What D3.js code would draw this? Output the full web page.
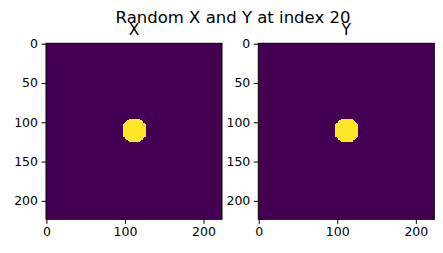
<!DOCTYPE html>
<html>
<head>
<meta charset="utf-8">
<script src="https://cdn.jsdelivr.net/npm/d3@7"></script>
<style>
  html, body { margin: 0; padding: 0; background: #fff; }
  svg { display: block; }
  text { font-family: "DejaVu Sans", sans-serif; fill: #000; }
</style>
</head>
<body>
<svg id="chart" width="443" height="253"></svg>
<script>
// ---- data ----
const suptitle = "Random X and Y at index 20";
const panelTitles = ["X", "Y"];
const gridSize = 224;                 // image is 224 x 224
const backgroundValue = 0;
const blobValue = 1;
// bright blob: [row, firstCol, lastCol(exclusive)]
const blobRows = [
  [96,105,120],[97,104,121],[98,103,122],[99,102,123],[100,101,124],[101,100,125],[102,99,126],
  [103,98,127],[104,98,127],[105,98,127],[106,98,127],[107,98,127],[108,98,127],[109,98,127],
  [110,98,127],[111,98,127],[112,98,127],[113,98,127],[114,98,127],[115,98,127],[116,98,127],[117,98,127],
  [118,99,126],[119,100,125],[120,101,124],[121,102,123],[122,103,122],[123,104,121],[124,105,120]
];
const xTicks = [0, 100, 200];
const yTicks = [0, 50, 100, 150, 200];

// ---- layout ----
const svg = d3.select("#chart");
const panelLeft = [46, 258.3];
const plotTop = 43.3, size = 176;
const color = d3.scaleSequential(d3.interpolateViridis).domain([0, 1]);

svg.append("text")
  .attr("x", 233).attr("y", 22.5)
  .attr("text-anchor", "middle")
  .style("font-size", "16.5px")
  .text(suptitle);

panelTitles.forEach((t, i) => {
  const x0 = panelLeft[i];
  const x = d3.scaleLinear().domain([-0.5, gridSize - 0.5]).range([x0, x0 + size]);
  const y = d3.scaleLinear().domain([-0.5, gridSize - 0.5]).range([plotTop, plotTop + size]);
  const g = svg.append("g");

  g.append("rect")
    .attr("x", x(-0.5)).attr("y", y(-0.5))
    .attr("width", x(gridSize - 0.5) - x(-0.5))
    .attr("height", y(gridSize - 0.5) - y(-0.5))
    .attr("fill", color(backgroundValue));

  g.selectAll("rect.blob").data(blobRows).join("rect")
    .attr("class", "blob")
    .attr("shape-rendering", "crispEdges")
    .attr("x", d => x(d[1] - 0.5))
    .attr("y", d => y(d[0] - 0.5))
    .attr("width", d => x(d[2] - 0.5) - x(d[1] - 0.5))
    .attr("height", d => y(d[0] + 0.5) - y(d[0] - 0.5) + 0.5)
    .attr("fill", color(blobValue));

  const xAxis = d3.axisBottom(x).tickValues(xTicks).tickSize(4.5).tickPadding(3.5);
  const yAxis = d3.axisLeft(y).tickValues(yTicks).tickSize(4.5).tickPadding(3.5);

  const gx = g.append("g").attr("transform", `translate(0,${plotTop + size})`).call(xAxis);
  const gy = g.append("g").attr("transform", `translate(${x0},0)`).call(yAxis);
  [gx, gy].forEach(a => {
    a.select(".domain").remove();
    a.selectAll("text").style("font-size", "12.5px").attr("fill", "#000");
    a.selectAll("line").attr("stroke", "#000").attr("stroke-width", 1);
  });

  g.append("rect")
    .attr("x", x0).attr("y", plotTop)
    .attr("width", size).attr("height", size)
    .attr("fill", "none").attr("stroke", "#000").attr("stroke-width", 1);

  g.append("text")
    .attr("x", x0 + size / 2).attr("y", 34.5)
    .attr("text-anchor", "middle")
    .style("font-size", "15.5px")
    .text(t);
});
</script>
</body>
</html>
